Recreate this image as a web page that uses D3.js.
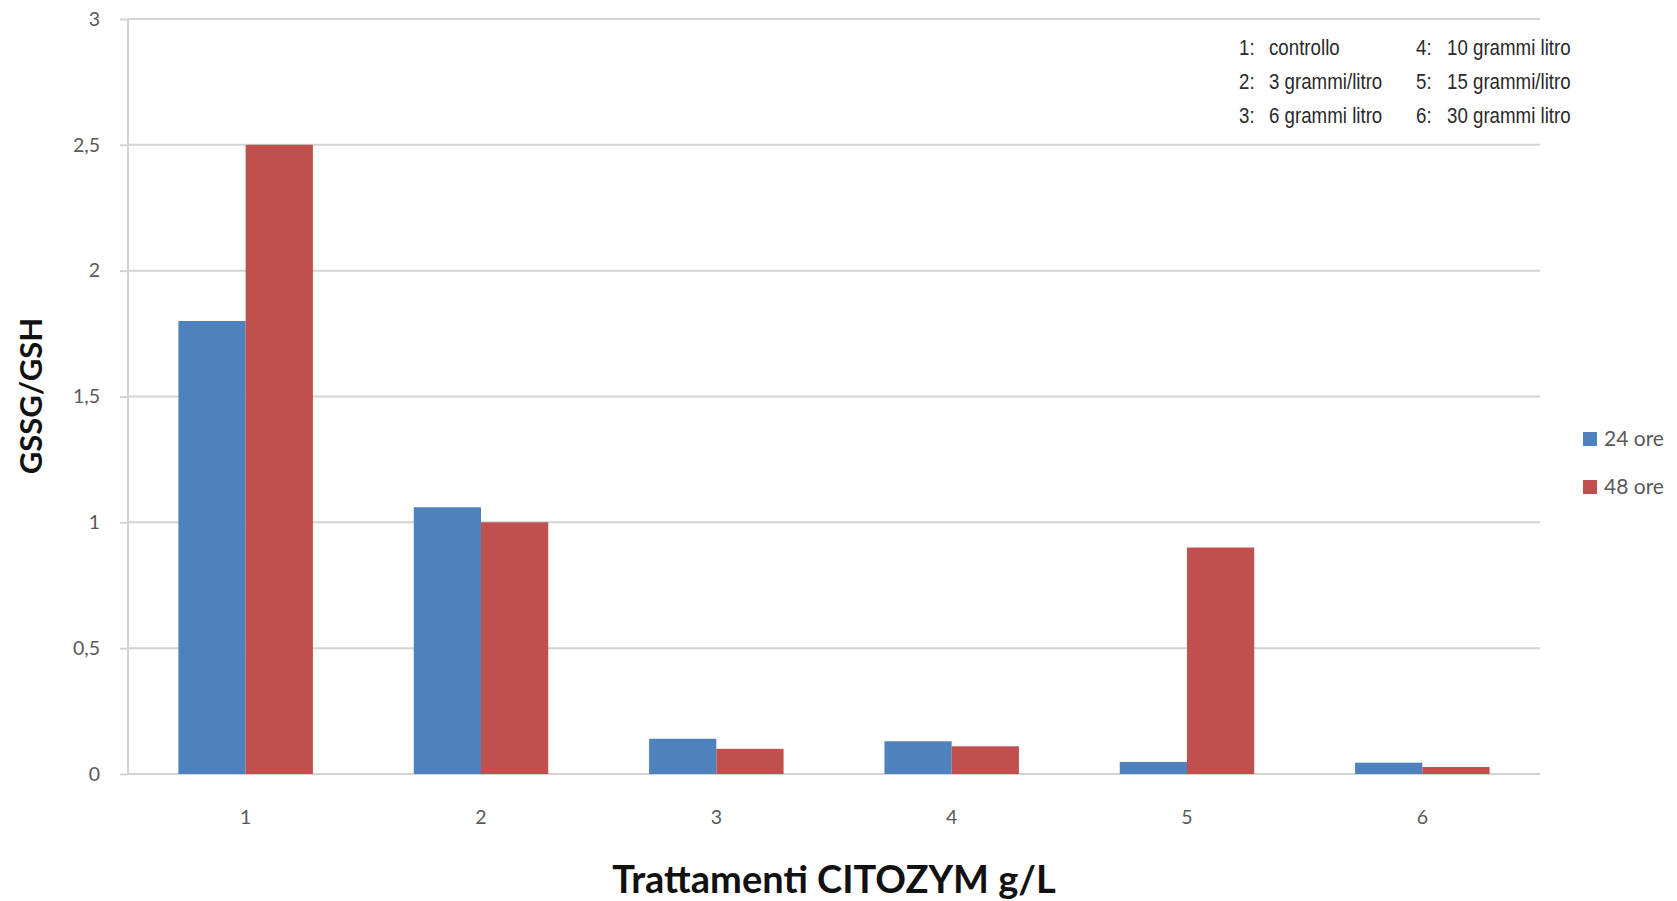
<!DOCTYPE html>
<html>
<head>
<meta charset="utf-8">
<script src="https://cdnjs.cloudflare.com/ajax/libs/d3/7.8.5/d3.min.js"></script>
<style>
  body { margin: 0; background: #fff; }
  svg { display: block; }
</style>
</head>
<body>
<svg></svg>
<script>
const categories = ["1", "2", "3", "4", "5", "6"]
const seriesNames = ["24 ore", "48 ore"]
const ore24 = [1.8, 1.06, 0.14, 0.13, 0.048, 0.045]
const ore48 = [2.5, 1.0, 0.1, 0.11, 0.9, 0.028]
const yTicks = [0, 0.5, 1, 1.5, 2, 2.5, 3]
const notesLeft = [["1:", "controllo"], ["2:", "3 grammi/litro"], ["3:", "6 grammi litro"]]
const notesRight = [["4:", "10 grammi litro"], ["5:", "15 grammi/litro"], ["6:", "30 grammi litro"]]

const width = 1677, height = 901
const margin = {top: 19, right: 137, bottom: 127, left: 128}

const colors = d3.scaleOrdinal().domain(seriesNames).range(["#4f81bd", "#c0504d"])

const svg = d3.select("svg")
    .attr("width", width)
    .attr("height", height)

const x0 = d3.scaleBand()
    .domain(categories)
    .range([margin.left, width - margin.right])
    .padding(0)

const x1 = d3.scaleBand()
    .domain(seriesNames)
    .range([0, x0.bandwidth()])
    .paddingInner(0)
    .paddingOuter(0.75)

const y = d3.scaleLinear()
    .domain([0, 3])
    .range([height - margin.bottom, margin.top])

const fmt = d => d3.format(".1~f")(d).replace(".", ",")

// gridlines + y axis
const yAxis = svg.append("g")
    .attr("transform", `translate(${margin.left},0)`)
    .call(d3.axisLeft(y).tickValues(yTicks).tickFormat(fmt).tickSize(8).tickPadding(20))

yAxis.select(".domain").remove()
yAxis.selectAll(".tick line").attr("stroke", "#d3d3d3").attr("stroke-width", 2)
yAxis.selectAll(".tick text")
    .attr("fill", "#595959")
    .style("font-family", "Lato, 'Open Sans', sans-serif")
    .style("font-size", "19.5px")

svg.append("g")
  .selectAll("line")
  .data(yTicks)
  .join("line")
    .attr("x1", margin.left)
    .attr("x2", width - margin.right)
    .attr("y1", d => y(d))
    .attr("y2", d => y(d))
    .attr("stroke", "#d3d3d3")
    .attr("stroke-width", 2)

svg.append("line")
    .attr("x1", margin.left).attr("x2", margin.left)
    .attr("y1", y(3)).attr("y2", y(0))
    .attr("stroke", "#d3d3d3")
    .attr("stroke-width", 2)

// bars
const rows = categories.map((c, i) => ({cat: c, values: [ore24[i], ore48[i]]}))

svg.append("g")
  .selectAll("g")
  .data(rows)
  .join("g")
    .attr("transform", d => `translate(${x0(d.cat)},0)`)
  .selectAll("rect")
  .data(d => d.values.map((v, j) => ({key: seriesNames[j], value: v})))
  .join("rect")
    .attr("x", d => x1(d.key))
    .attr("y", d => y(d.value))
    .attr("width", x1.bandwidth())
    .attr("height", d => y(0) - y(d.value))
    .attr("fill", d => colors(d.key))

// x labels
svg.append("g")
  .selectAll("text")
  .data(categories)
  .join("text")
    .attr("x", d => x0(d) + x0.bandwidth() / 2)
    .attr("y", y(0) + 50)
    .attr("text-anchor", "middle")
    .attr("fill", "#595959")
    .style("font-family", "Lato, 'Open Sans', sans-serif")
    .style("font-size", "19.5px")
    .text(d => d)

// axis titles
svg.append("text")
    .attr("x", 834)
    .attr("y", 893)
    .attr("text-anchor", "middle")
    .attr("fill", "#111")
    .style("font-family", "Lato, 'Open Sans', sans-serif")
    .style("font-weight", "bold")
    .style("font-size", "38px")
    .text("Trattamenti CITOZYM g/L")

svg.append("text")
    .attr("transform", "translate(42,396) rotate(-90)")
    .attr("text-anchor", "middle")
    .attr("fill", "#111")
    .style("font-family", "Lato, 'Open Sans', sans-serif")
    .style("font-weight", "bold")
    .style("font-size", "31px")
    .text("GSSG/GSH")

// legend
const legend = svg.append("g")
  .selectAll("g")
  .data(seriesNames)
  .join("g")
    .attr("transform", (d, i) => `translate(1583,${432 + i * 48})`)

legend.append("rect")
    .attr("width", 14).attr("height", 14)
    .attr("fill", d => colors(d))

legend.append("text")
    .attr("x", 21)
    .attr("y", 14)
    .attr("fill", "#595959")
    .style("font-family", "Lato, 'Open Sans', sans-serif")
    .style("font-size", "21px")
    .text(d => d)

// notes box (condensed look)
const notes = svg.append("g")
    .style("font-family", "'Liberation Sans Narrow', 'Liberation Sans', sans-serif")
    .style("font-size", "22px")
    .attr("fill", "#2a2a2a")

const drawNotes = (list, xNum, xText) => {
  const g = notes.append("g")
  g.selectAll(".num").data(list).join("text")
      .attr("class", "num")
      .attr("x", xNum).attr("y", (d, i) => 55 + i * 34)
      .text(d => d[0])
  g.selectAll(".lbl").data(list).join("text")
      .attr("class", "lbl")
      .attr("x", xText).attr("y", (d, i) => 55 + i * 34)
      .text(d => d[1])
}
drawNotes(notesLeft, 1239, 1269)
drawNotes(notesRight, 1416, 1447)

notes.selectAll("text").each(function () {
  const w = this.getComputedTextLength()
  d3.select(this).attr("textLength", w * 0.85).attr("lengthAdjust", "spacingAndGlyphs")
})
</script>
</body>
</html>
